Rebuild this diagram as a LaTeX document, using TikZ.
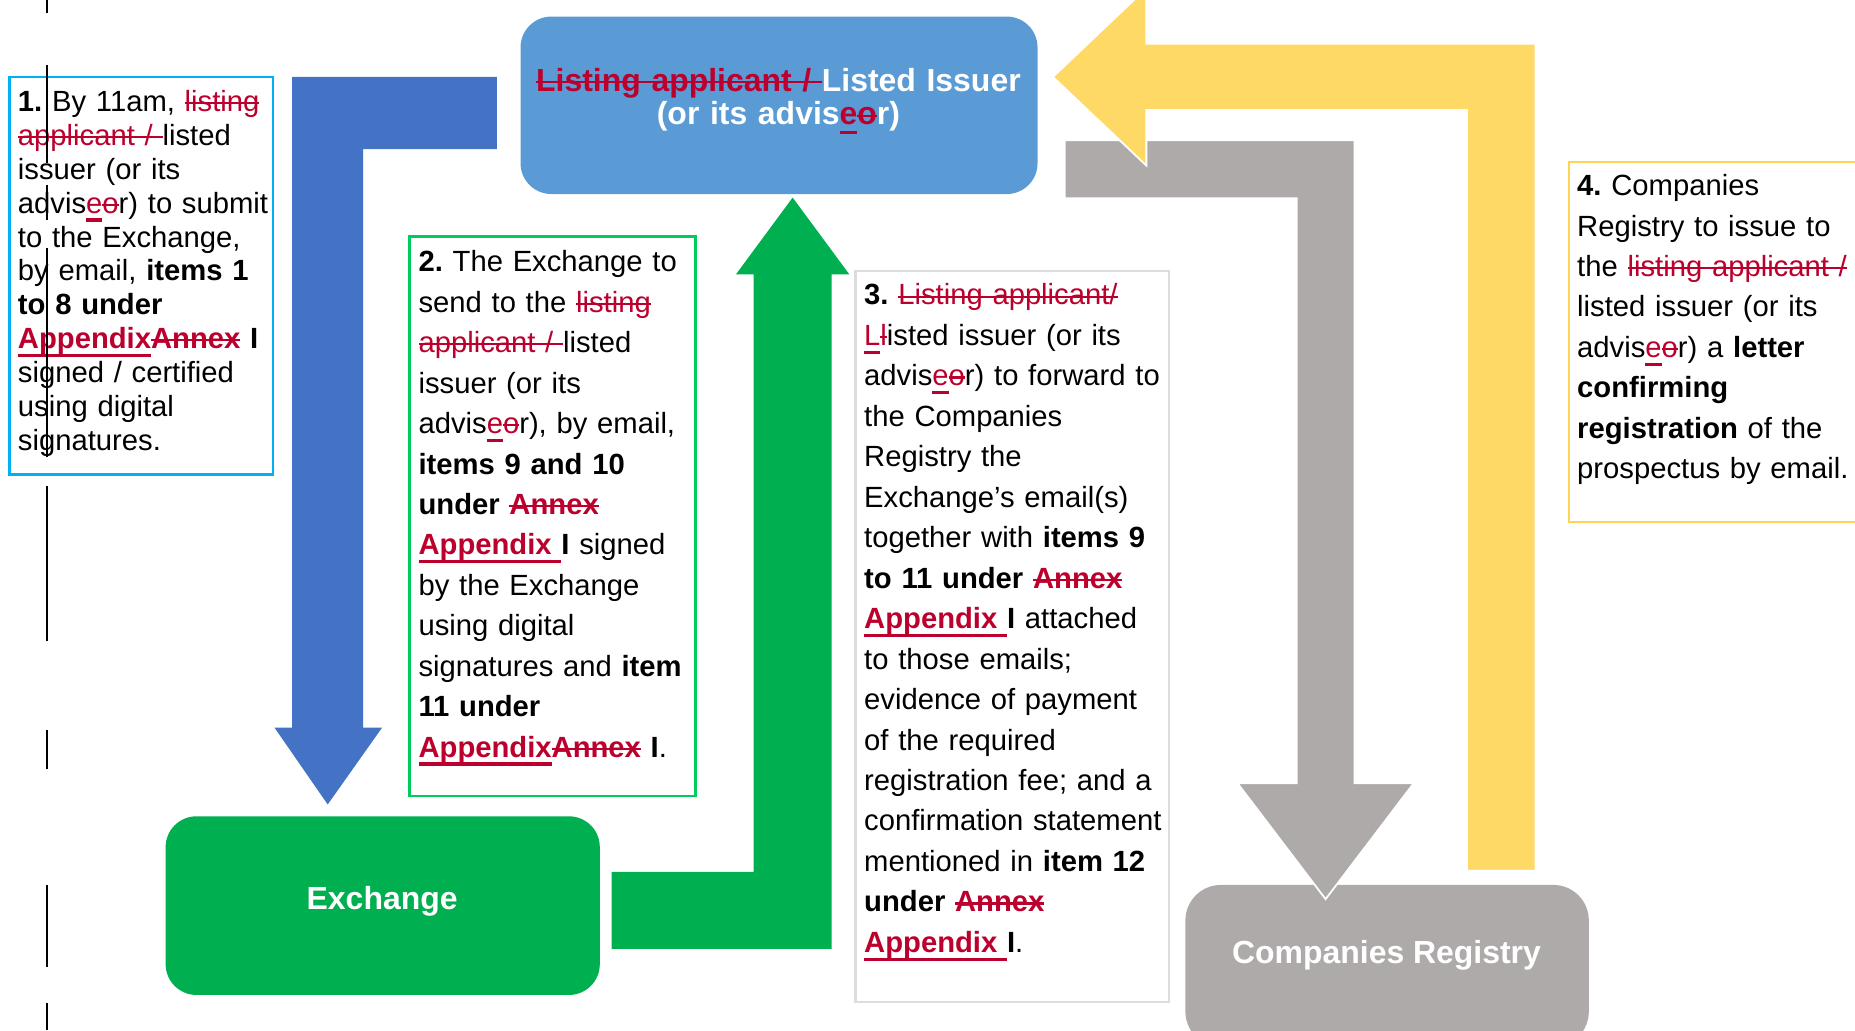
\documentclass[tikz,border=0pt]{standalone}
\usepackage{fontspec}
\setmainfont{Liberation Sans}
\definecolor{blueArrow}{HTML}{4472C4}
\definecolor{blueBox}{HTML}{5B9BD5}
\definecolor{greenF}{HTML}{00B050}
\definecolor{grayF}{HTML}{AEAAAA}
\definecolor{yellowF}{HTML}{FFD966}
\definecolor{cyanB}{HTML}{00B0F0}
\definecolor{greenB}{HTML}{00CC5E}
\definecolor{grayB}{HTML}{DDDDDD}
\definecolor{yellowB}{HTML}{FFD54F}
\definecolor{rev}{RGB}{187,0,45}
\newcommand\rins[1]{\leavevmode{\color{rev}\setbox0\hbox{#1}\rlap{\rule[-0.29em]{\wd0}{2.8pt}}\box0}}
\newcommand\rdel[1]{\leavevmode{\color{rev}\setbox0\hbox{#1}\rlap{\rule[0.25em]{\wd0}{1.8pt}}\box0}}
\frenchspacing
\begin{document}
\begin{tikzpicture}[x=1pt,y=-1pt,
  notebox/.style={draw, line width=2pt, fill=white, inner sep=0pt},
  roundbox/.style={draw=none, rounded corners=26pt, inner sep=0pt},
  body/.style={anchor=base west, inner sep=0pt, text width=300pt, align=left,
    font=\fontsize{24.7pt}{34.2pt}\selectfont\frenchspacing},
  bodyA/.style={body, font=\fontsize{24.7pt}{28.6pt}\selectfont\frenchspacing},
  titletext/.style={inner sep=0pt, text=white, font=\fontsize{27pt}{28.6pt}\selectfont\bfseries},
  blockarrow/.style={draw=white, line width=1.5pt, line join=miter}
]
\useasboundingbox (0,0) rectangle (1568,871);
\clip (0,0) rectangle (1568,871);

% note boxes
\node[notebox, draw=cyanB, minimum width=223pt, minimum height=336pt] (note1) at (119.5,233) {};
\node[notebox, draw=greenB, minimum width=242pt, minimum height=473pt] (note2) at (467,436.5) {};
\node[notebox, draw=grayB, minimum width=265pt, minimum height=618pt] (note3) at (855.5,538) {};
\node[notebox, draw=yellowB, minimum width=260pt, minimum height=304pt] (note4) at (1456,289) {};

% rounded boxes
\node[roundbox, fill=blueBox, minimum width=437pt, minimum height=150pt] (issuer) at (658.5,89) {};
\node[roundbox, fill=greenF, minimum width=367pt, minimum height=151pt] (exchange) at (323.5,765.5) {};
\node[roundbox, fill=grayF, rounded corners=30pt, minimum width=341pt, minimum height=137pt] (registry) at (1172.5,816.5) {};

% block arrows
\fill[blueArrow] (420,65) -- (247,65) -- (247,615) -- (232,615) -- (277,680) -- (323,615) -- (307,615) -- (307,126) -- (420,126) -- cycle;
\fill[greenF] (517,737) -- (637,737) -- (637,232) -- (622,232) -- (670,167) -- (718,232) -- (703,232) -- (703,802) -- (517,802) -- cycle;
\filldraw[blockarrow, fill=grayF] (900,118.6) -- (1145,118.6) -- (1145,662) -- (1195,662) -- (1120.5,760) -- (1046,662) -- (1096,662) -- (1096,167.6) -- (900,167.6) -- cycle;
\filldraw[blockarrow, fill=yellowF] (1298,736) -- (1298,37) -- (969,37) -- (969,-10) -- (890,65) -- (969,140) -- (969,93) -- (1240,93) -- (1240,736) -- cycle;

% titles
\node[titletext, text width=430pt, align=center, anchor=base] (issuertxt) at (658,77)
  {\rdel{Listing applicant / }Listed Issuer\\(or its advis\rins{e}\rdel{o}r)};
\node[titletext, anchor=base] (exchangetxt) at (323,768.6) {Exchange};
\node[titletext, anchor=base] (registrytxt) at (1172,814.3) {Companies Registry};

% texts
\node[bodyA] (text1) at (15,94.4) {%
\textbf{1.} By 11am, \rdel{listing}\\
\rdel{applicant / }listed\\
issuer (or its\\
advis\rins{e}\rdel{o}r) to submit\\
to the Exchange,\\
by email, \textbf{items 1}\\
\textbf{to 8 under}\\
\textbf{\rins{Appendix}\rdel{Annex} I}\\
signed / certified\\
using digital\\
signatures.};

\node[body] (text2) at (353.6,229.7) {%
\textbf{2.} The Exchange to\\
send to the \rdel{listing}\\
\rdel{applicant / }listed\\
issuer (or its\\
advis\rins{e}\rdel{o}r), by email,\\
\textbf{items 9 and 10}\\
\textbf{under \rdel{Annex}}\\
\textbf{\rins{Appendix }I} signed\\
by the Exchange\\
using digital\\
signatures and \textbf{item}\\
\textbf{11 under}\\
\textbf{\rins{Appendix}\rdel{Annex} I}.};

\node[body] (text3) at (730.3,257.8) {%
\textbf{3.} \rdel{Listing applicant/}\\
\rins{L}\rdel{l}isted issuer (or its\\
advis\rins{e}\rdel{o}r) to forward to\\
the Companies\\
Registry the\\
Exchange’s email(s)\\
together with \textbf{items 9}\\
\textbf{to 11 under \rdel{Annex}}\\
\textbf{\rins{Appendix }I} attached\\
to those emails;\\
evidence of payment\\
of the required\\
registration fee; and a\\
confirmation statement\\
mentioned in \textbf{item 12}\\
\textbf{under \rdel{Annex}}\\
\textbf{\rins{Appendix }I}.};

\node[body] (text4) at (1333,165.3) {%
\textbf{4.} Companies\\
Registry to issue to\\
the \rdel{listing applicant /}\\
listed issuer (or its\\
advis\rins{e}\rdel{o}r) a \textbf{letter}\\
\textbf{confirming}\\
\textbf{registration} of the\\
prospectus by email.};

% change bar (drawn on top)
\foreach \a/\b in {0/11, 55/138, 156/186, 210/386, 411/542, 617/650, 748/817, 848/871}
  \draw[line width=1.6pt, black] (39.5,\a) -- (39.5,\b);
\end{tikzpicture}
\end{document}
